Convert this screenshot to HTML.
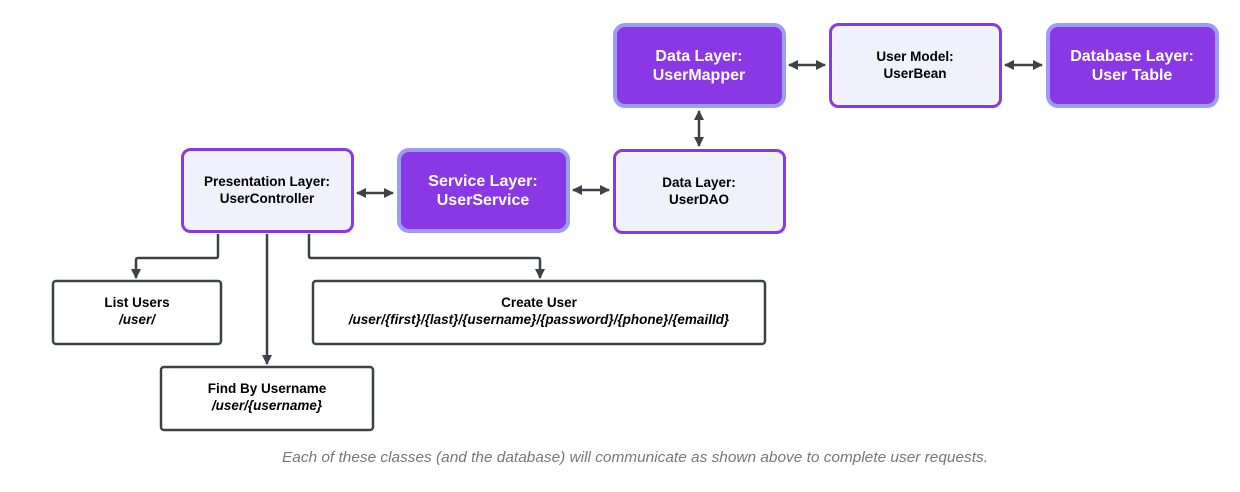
<!DOCTYPE html>
<html><head><meta charset="utf-8"><style>
html,body{margin:0;padding:0;background:#fff;}
svg{display:block;}
text{font-family:"Liberation Sans",Arial,sans-serif;}
</style></head><body>
<svg width="1240" height="492" viewBox="0 0 1240 492" xmlns="http://www.w3.org/2000/svg">
<defs>
<marker id="a" viewBox="0 0 10 10" refX="9" refY="5" markerWidth="4" markerHeight="4" orient="auto-start-reverse"><path d="M0,0 L10,5 L0,10 z" fill="#3d4248"/></marker>
</defs>
<g fill="none" stroke="#3d4248" stroke-width="2.5">
<line x1="357" y1="193" x2="393" y2="193" marker-start="url(#a)" marker-end="url(#a)"/>
<line x1="573" y1="190" x2="609" y2="190" marker-start="url(#a)" marker-end="url(#a)"/>
<line x1="699" y1="111" x2="699" y2="146" marker-start="url(#a)" marker-end="url(#a)"/>
<line x1="789" y1="65" x2="825" y2="65" marker-start="url(#a)" marker-end="url(#a)"/>
<line x1="1005" y1="65" x2="1042" y2="65" marker-start="url(#a)" marker-end="url(#a)"/>
<path d="M218,234 V256 Q218,258 216,258 H138 Q136,258 136,260 V278" marker-end="url(#a)"/>
<path d="M267,234 V364" marker-end="url(#a)"/>
<path d="M309,234 V256 Q309,258 311,258 H538 Q540,258 540,260 V278" marker-end="url(#a)"/>
</g>
<g fill="#f1f1fb" stroke="#8a38e6" stroke-width="3">
<rect x="182.5" y="149.5" width="170" height="82" rx="8"/>
<rect x="614.5" y="150.5" width="170" height="82" rx="8"/>
<rect x="830.5" y="24.5" width="170" height="82" rx="8"/>
</g>
<g fill="#8a38e6" stroke="#9b9bf8" stroke-width="4">
<rect x="399" y="150" width="169" height="81" rx="10"/>
<rect x="615" y="25" width="169" height="81" rx="10"/>
<rect x="1048" y="25" width="169" height="81" rx="10"/>
</g>
<g fill="#fff" stroke="#3d4248" stroke-width="2.5">
<rect x="53" y="281" width="168" height="63" rx="3"/>
<rect x="313" y="281" width="452" height="63" rx="3"/>
<rect x="161" y="367" width="212" height="63" rx="3"/>
</g>
<g font-weight="bold" text-anchor="middle" font-size="13.5" fill="#000">
<text x="267" y="186">Presentation Layer:</text><text x="267" y="203">UserController</text>
<text x="699" y="187">Data Layer:</text><text x="699" y="204">UserDAO</text>
<text x="915" y="61">User Model:</text><text x="915" y="78">UserBean</text>
<text x="137" y="307">List Users</text>
<text x="539" y="307">Create User</text>
<text x="267" y="393">Find By Username</text>
</g>
<g font-weight="bold" font-style="italic" text-anchor="middle" font-size="13.5" fill="#000">
<text x="137" y="324">/user/</text>
<text x="539" y="324">/user/{first}/{last}/{username}/{password}/{phone}/{emailId}</text>
<text x="267" y="410">/user/{username}</text>
</g>
<g font-weight="bold" text-anchor="middle" font-size="16" fill="#fff">
<text x="483" y="186">Service Layer:</text><text x="483" y="205">UserService</text>
<text x="699" y="61">Data Layer:</text><text x="699" y="80">UserMapper</text>
<text x="1132" y="61">Database Layer:</text><text x="1132" y="80">User Table</text>
</g>
<text x="282" y="462" font-size="14.5" font-style="italic" fill="#777" textLength="706" lengthAdjust="spacingAndGlyphs">Each of these classes (and the database) will communicate as shown above to complete user requests.</text>
</svg>
</body></html>
